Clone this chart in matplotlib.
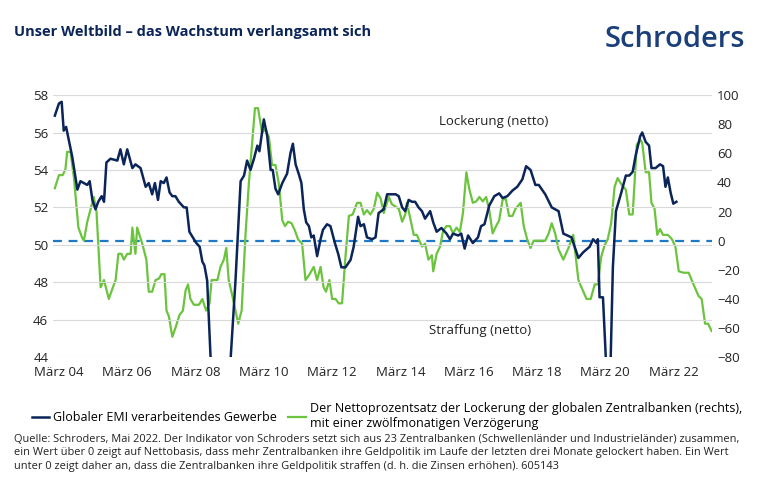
import matplotlib
matplotlib.use("Agg")
import matplotlib.pyplot as plt

plt.rcParams["font.family"] = ["Open Sans", "DejaVu Sans"]

NAVY = "#0b2559"
GREEN = "#6cc33e"
DASH = "#2079c7"

# Globaler EMI (linke Achse), Datum als Dezimaljahr
emi_t = [2004.05, 2004.17, 2004.25, 2004.31, 2004.38, 2004.56, 2004.71, 2004.80, 2005.00, 2005.07,
         2005.15, 2005.24, 2005.32, 2005.42, 2005.49, 2005.56, 2005.68, 2005.88, 2005.97, 2006.07,
         2006.17, 2006.32, 2006.41, 2006.56, 2006.71, 2006.80, 2006.90, 2006.98, 2007.07, 2007.15,
         2007.24, 2007.32, 2007.41, 2007.49, 2007.58, 2007.68, 2007.83, 2007.91, 2007.99, 2008.09,
         2008.19, 2008.29, 2008.37, 2008.43, 2008.51, 2008.61, 2008.75, 2008.90, 2009.05, 2009.20,
         2009.34, 2009.49, 2009.59, 2009.68, 2009.78, 2009.88, 2009.98, 2010.04, 2010.17, 2010.27,
         2010.37, 2010.43, 2010.51, 2010.59, 2010.71, 2010.85, 2010.95, 2011.02, 2011.10, 2011.19,
         2011.27, 2011.34, 2011.41, 2011.49, 2011.56, 2011.63, 2011.73, 2011.83, 2011.90, 2012.02,
         2012.12, 2012.25, 2012.35, 2012.44, 2012.56, 2012.71, 2012.80, 2012.93, 2013.00, 2013.10,
         2013.19, 2013.34, 2013.44, 2013.53, 2013.68, 2013.78, 2013.92, 2014.03, 2014.12, 2014.22,
         2014.31, 2014.41, 2014.51, 2014.60, 2014.70, 2014.80, 2014.89, 2015.04, 2015.13, 2015.23,
         2015.37, 2015.52, 2015.62, 2015.71, 2015.86, 2015.95, 2016.05, 2016.15, 2016.29, 2016.44,
         2016.53, 2016.63, 2016.77, 2016.92, 2017.06, 2017.16, 2017.30, 2017.45, 2017.59, 2017.74,
         2017.85, 2017.98, 2018.12, 2018.22, 2018.41, 2018.60, 2018.80, 2018.94, 2019.18, 2019.38,
         2019.52, 2019.71, 2019.81, 2019.91, 2019.95, 2020.00, 2020.10, 2020.19, 2020.24, 2020.32,
         2020.39, 2020.48, 2020.63, 2020.77, 2020.87, 2020.97, 2021.06, 2021.19, 2021.25, 2021.35,
         2021.45, 2021.52, 2021.64, 2021.77, 2021.86, 2021.93, 2022.00, 2022.08, 2022.16, 2022.25]
emi_v = [56.9, 57.55, 57.64, 56.1, 56.3, 54.7, 52.95, 53.4, 53.2, 53.4,
         52.4, 51.9, 52.3, 52.6, 52.3, 54.4, 54.6, 54.5, 55.1, 54.3,
         55.1, 54.1, 54.3, 54.1, 53.1, 53.3, 52.7, 53.3, 52.4, 53.4,
         53.3, 53.6, 52.8, 52.6, 52.6, 52.3, 52.0, 52.0, 50.7, 50.4,
         50.1, 49.9, 49.1, 48.9, 48.1, 44.0, 38.0, 34.0, 38.0, 44.0,
         48.1, 53.4, 53.7, 54.5, 54.0, 54.6, 55.3, 55.0, 56.7, 55.8,
         54.0, 54.0, 53.0, 52.7, 53.3, 53.8, 54.9, 55.4, 54.3, 53.8,
         53.3, 51.9, 51.2, 51.0, 50.4, 50.5, 49.4, 50.3, 50.8, 51.1,
         51.0, 50.1, 49.5, 48.8, 48.8, 49.2, 49.9, 51.5, 51.0, 51.1,
         50.4, 50.3, 50.4, 51.7, 51.9, 52.7, 52.7, 52.7, 52.6, 52.0,
         51.8, 52.4, 52.3, 52.3, 52.0, 51.8, 51.4, 51.8, 51.2, 50.7,
         50.9, 50.6, 50.3, 50.6, 50.5, 50.6, 49.8, 50.5, 50.1, 50.4,
         51.0, 51.1, 52.1, 52.6, 52.75, 52.5, 52.6, 52.9, 53.1, 53.5,
         54.2, 54.0, 53.2, 53.2, 52.7, 52.0, 51.8, 50.6, 50.4, 49.3,
         49.6, 49.9, 50.3, 50.1, 50.3, 47.2, 47.2, 43.7, 39.5, 43.5,
         48.8, 51.8, 52.75, 53.7, 53.7, 53.9, 54.8, 55.8, 56.0, 55.5,
         55.3, 54.1, 54.1, 54.3, 54.2, 53.1, 53.6, 52.8, 52.2, 52.3]

# Netto-Lockerung der Zentralbanken in % (rechte Achse, 12 Monate verzoegert)
cb_t = [2004.05, 2004.17, 2004.28, 2004.36, 2004.41, 2004.51, 2004.61, 2004.74, 2004.85, 2004.90,
        2005.00, 2005.10, 2005.19, 2005.27, 2005.39, 2005.49, 2005.63, 2005.75, 2005.83, 2005.91,
        2006.00, 2006.07, 2006.17, 2006.27, 2006.32, 2006.41, 2006.46, 2006.61, 2006.73, 2006.80,
        2006.90, 2007.00, 2007.10, 2007.17, 2007.26, 2007.32, 2007.39, 2007.49, 2007.58, 2007.70,
        2007.80, 2007.88, 2007.95, 2008.02, 2008.12, 2008.27, 2008.37, 2008.48, 2008.58, 2008.64,
        2008.81, 2008.90, 2009.00, 2009.07, 2009.14, 2009.24, 2009.34, 2009.42, 2009.52, 2009.63,
        2009.73, 2009.91, 2010.00, 2010.12, 2010.22, 2010.32, 2010.41, 2010.51, 2010.61, 2010.71,
        2010.79, 2010.88, 2010.98, 2011.08, 2011.17, 2011.29, 2011.39, 2011.51, 2011.63, 2011.73,
        2011.83, 2011.92, 2011.99, 2012.09, 2012.17, 2012.27, 2012.36, 2012.46, 2012.56, 2012.66,
        2012.77, 2012.90, 2013.00, 2013.10, 2013.19, 2013.29, 2013.39, 2013.49, 2013.59, 2013.68,
        2013.83, 2013.92, 2014.12, 2014.22, 2014.31, 2014.36, 2014.56, 2014.65, 2014.80, 2014.89,
        2014.99, 2015.09, 2015.13, 2015.23, 2015.33, 2015.42, 2015.52, 2015.62, 2015.71, 2015.81,
        2015.91, 2016.00, 2016.10, 2016.19, 2016.29, 2016.39, 2016.48, 2016.58, 2016.68, 2016.77,
        2016.87, 2016.97, 2017.06, 2017.16, 2017.25, 2017.35, 2017.45, 2017.54, 2017.69, 2017.78,
        2017.88, 2017.98, 2018.07, 2018.22, 2018.41, 2018.51, 2018.60, 2018.70, 2018.80, 2018.94,
        2019.09, 2019.23, 2019.38, 2019.47, 2019.62, 2019.74, 2019.86, 2019.95, 2020.05, 2020.15,
        2020.24, 2020.34, 2020.44, 2020.53, 2020.63, 2020.77, 2020.87, 2020.97, 2021.09, 2021.21,
        2021.25, 2021.35, 2021.45, 2021.52, 2021.61, 2021.69, 2021.77, 2021.86, 2022.00, 2022.12,
        2022.22, 2022.32, 2022.46, 2022.61, 2022.75, 2022.90, 2022.99, 2023.09, 2023.18, 2023.28]
cb_v = [36, 45, 45, 49, 61, 61, 43, 9, 2, 0,
        13, 22, 30, 20, -32, -27, -40, -32, -27, -9,
        -9, -13, -9, -9, 9, -9, 9, -2, -13, -35,
        -35, -27, -26, -23, -23, -48, -52, -66, -60, -51,
        -48, -34, -30, -40, -44, -44, -40, -48, -43, -27,
        -27, -18, -13, -5, -27, -37, -48, -57, -48, 3,
        39, 91, 91, 74, 77, 71, 52, 52, 39, 14,
        10, 13, 12, 7, 1, -2, -27, -23, -18, -27,
        -18, -32, -35, -27, -40, -40, -43, -43, -11, 17,
        18, 26, 26, 18, 21, 18, 22, 33, 29, 19,
        30, 25, 22, 13, 18, 26, 4, 4, -4, -2,
        -13, -10, -21, -9, -4, 7, 10, 10, 5, 9,
        6, 19, 47, 35, 26, 27, 30, 27, 30, 21,
        5, 10, 14, 28, 29, 17, 17, 22, 26, 10,
        1, -5, 0, 0, 0, 5, 12, 5, -6, -13,
        -5, 4, -27, -32, -40, -40, -30, -30, -11, -3,
        1, 12, 37, 43, 39, 35, 18, 18, 66, 69,
        67, 47, 47, 26, 22, 4, 8, 4, 4, 1,
        -4, -21, -22, -22, -30, -38, -40, -57, -57, -62]

tick_years = [2004, 2006, 2008, 2010, 2012, 2014, 2016, 2018, 2020, 2022]

fig = plt.figure(figsize=(7.7, 4.9), dpi=100)
ax = fig.add_axes([0.069, 0.271, 0.856, 0.535])
ax2 = ax.twinx()

ax.set_ylim(44, 58)
ax2.set_ylim(-80, 100)
ax.set_xlim(2004.0, 2023.3)
ax.set_yticks(range(44, 59, 2))
ax2.set_yticks(range(-80, 101, 20))
ax.set_xticks([y + 2 / 12 for y in tick_years])
ax.set_xticklabels([f"März {y % 100:02d}" for y in tick_years])

ax.grid(axis="y", color="#d9d9d9", linewidth=0.8)
ax.set_axisbelow(True)
for a in (ax, ax2):
    for s in a.spines.values():
        s.set_visible(False)
    a.tick_params(length=0, labelsize=9.5, colors="#222222")
ax.tick_params(axis="x", pad=6)

ax2.axhline(0, color=DASH, linestyle=(0, (4, 3)), linewidth=1.6)
ax2.plot(cb_t, cb_v, color=GREEN, linewidth=1.6, clip_on=True)
ax.plot(emi_t, emi_v, color=NAVY, linewidth=1.8)
ax.set_zorder(ax2.get_zorder() + 1)
ax.patch.set_visible(False)

ax2.text(2015.3, 82, "Lockerung (netto)", fontsize=9.5, color="#222222", va="center")
ax2.text(2015.0, -62, "Straffung (netto)", fontsize=9.5, color="#222222", va="center")

fig.text(0.018, 0.935, "Unser Weltbild – das Wachstum verlangsamt sich", fontsize=10.5,
         fontweight="bold", color=NAVY, va="center")
fig.text(0.968, 0.92, "Schroders", fontsize=21, fontweight="semibold", color="#1b3f7a",
         ha="right", va="center")

legend_lines = [plt.Line2D([], [], color=NAVY, linewidth=1.8),
                plt.Line2D([], [], color=GREEN, linewidth=1.6)]
fig.legend(legend_lines,
           ["Globaler EMI verarbeitendes Gewerbe",
            "Der Nettoprozentsatz der Lockerung der globalen Zentralbanken (rechts),\nmit einer zwölfmonatigen Verzögerung"],
           loc="upper left", bbox_to_anchor=(0.035, 0.19), ncol=2, frameon=False,
           fontsize=9, handlelength=1.4, handletextpad=0.3, columnspacing=0.9,
           borderaxespad=0)

fig.text(0.018, 0.115,
         "Quelle: Schroders, Mai 2022. Der Indikator von Schroders setzt sich aus 23 Zentralbanken (Schwellenländer und Industrieländer) zusammen,\n"
         "ein Wert über 0 zeigt auf Nettobasis, dass mehr Zentralbanken ihre Geldpolitik im Laufe der letzten drei Monate gelockert haben. Ein Wert\n"
         "unter 0 zeigt daher an, dass die Zentralbanken ihre Geldpolitik straffen (d. h. die Zinsen erhöhen). 605143",
         fontsize=7.9, color="#222222", va="top", linespacing=1.35)

fig.savefig("out.png", dpi=100)
